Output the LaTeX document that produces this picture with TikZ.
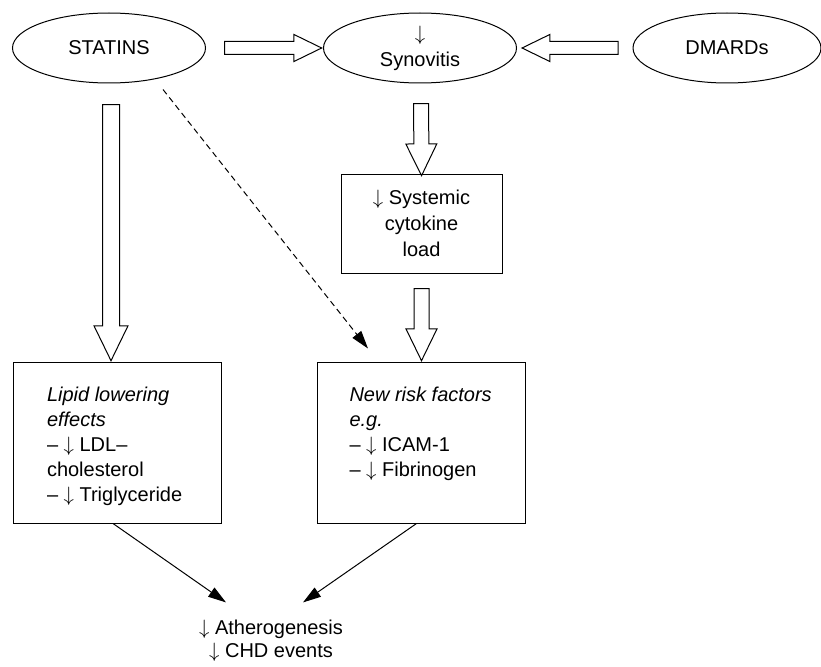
\documentclass[tikz,border=0pt]{standalone}
\usepackage{fontspec}
\setmainfont{Liberation Sans}
\usetikzlibrary{shapes.geometric,shapes.arrows,arrows.meta,calc}

\newcommand{\dn}{$\downarrow$}

\begin{document}
\begin{tikzpicture}[x=1pt,y=-1pt,line width=1pt,
    font=\fontsize{20}{25}\selectfont,
    oval/.style={draw,ellipse,minimum width=193pt,minimum height=70pt,inner sep=0pt,align=center},
    box/.style={draw,rectangle,minimum width=208pt,minimum height=161pt,inner sep=0pt},
    boxtext/.style={anchor=north west,align=left,inner sep=0pt},
    hollowh/.style={draw,single arrow,inner sep=0pt,inner ysep=6pt,single arrow head extend=7pt,
        single arrow tip angle=52,sloped,allow upside down},
    hollowv/.style={hollowh,inner ysep=7pt,single arrow head extend=8pt},
    tip/.style={-{Triangle[length=18pt,width=11pt]}}
]
\useasboundingbox (0,0) rectangle (821,666);

% Top row
\node[oval] (statins) at (109,48) {STATINS};
\node[oval,font=\fontsize{20}{26}\selectfont] (synov) at (420,48) {\dn\\Synovitis};
\node[oval,minimum width=188pt] (dmards) at (727,48) {DMARDs};

% Middle box
\node[draw,minimum width=161pt,minimum height=99pt,align=center,
      font=\fontsize{20}{26}\selectfont] (cyto) at (421.5,223.5) {\dn\ Systemic\\cytokine\\load};

% Lower boxes
\node[box] (lipid) at (117,442.5) {};
\node[boxtext] (lipidtxt) at ($(lipid.north west)+(34,25)$)
    {\textit{Lipid lowering}\\\textit{effects}\\– \dn\ LDL–\\cholesterol\\– \dn\ Triglyceride};
\node[box] (risk) at (421.5,442.5) {};
\node[boxtext] (risktxt) at ($(risk.north west)+(32,25)$)
    {\textit{New risk factors}\\\textit{e.g.}\\– \dn\ ICAM-1\\– \dn\ Fibrinogen};

% Outcome
\node[align=center,font=\fontsize{20}{23}\selectfont] (athero) at (271,641) {\dn\ Atherogenesis\\\dn\ CHD events};
\coordinate (tipL) at ($(athero.north)+(-45,-14)$);
\coordinate (tipR) at ($(athero.north)+(32,-14)$);

% Hollow arrows
\path ($(statins.east)+(13,0)$) -- node[hollowh,minimum height=97pt] {} ($(synov.west)+(-9,0)$);
\path ($(dmards.west)+(-8,0)$) -- node[hollowh,minimum height=96pt] {} ($(synov.east)+(12,0)$);
\path ($(statins.south)+(2,13)$) -- node[hollowv,minimum height=256pt,inner ysep=8pt,single arrow head extend=8.5pt] {} ($(lipid.north)+(-6,-10)$);
\path ($(synov.south)+(1,13)$) -- node[hollowv,minimum height=72pt] {} ($(cyto.north)+(0,-6)$);
\path ($(cyto.south)+(0,8)$) -- node[hollowv,minimum height=72pt] {} ($(risk.north)+(0,-9)$);

% Statins to new risk factors
\draw[tip,dash pattern=on 6pt off 4pt] ($(statins.south)+(54,6)$) -- ($(risk.north west)+(51,-13)$);

% Towards atherogenesis
\draw[tip] ($(lipid.south)+(-4,0)$) -- (tipL);
\draw[tip] ($(risk.south)+(-5,0)$) -- (tipR);
\end{tikzpicture}
\end{document}
